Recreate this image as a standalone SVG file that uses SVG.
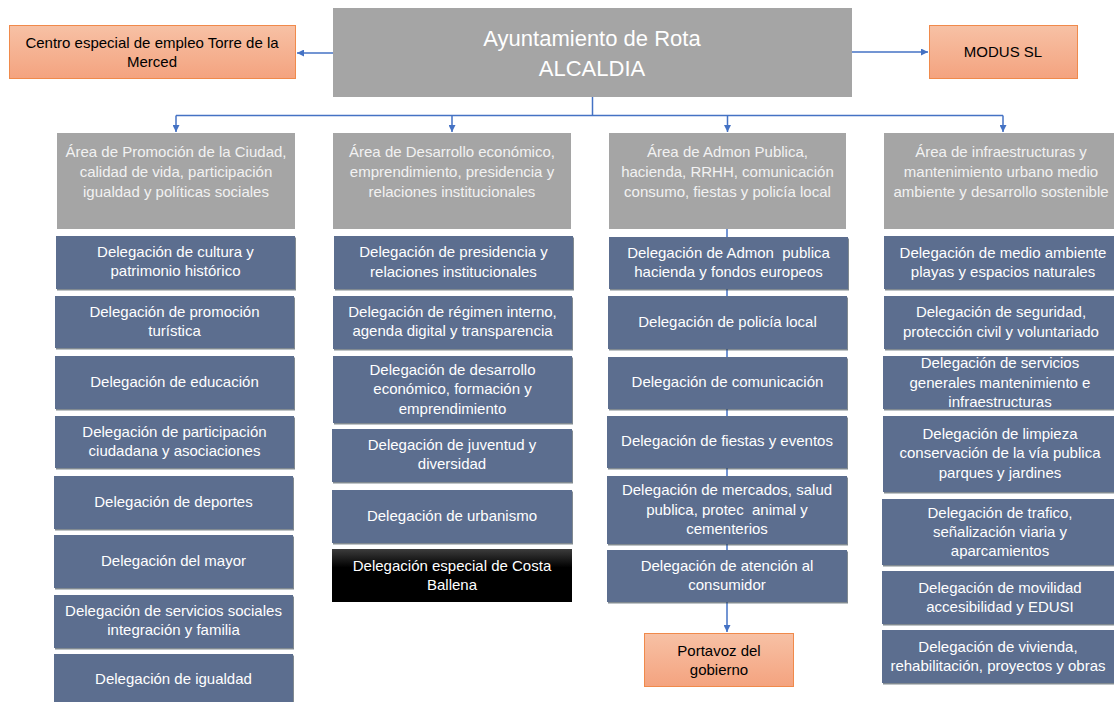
<svg xmlns="http://www.w3.org/2000/svg" width="1114" height="702" viewBox="0 0 1114 702">
<style>
text{font-family:"Liberation Sans",Arial,sans-serif;font-size:15px;text-anchor:middle;white-space:pre}
.gray{fill:#a5a5a5}
.area text{fill:#f2f2f2}
.del rect{fill:#5b6e8f;filter:url(#sh)}
.del text{fill:#ffffff}
.org rect{fill:url(#og);stroke:#f08a4b;stroke-width:1}
.org text{fill:#000000}
.blk rect{fill:url(#bg)}
.blk text{fill:#ffffff}
.conn{stroke:#4472c4;stroke-width:1.5;fill:none}
.title{fill:#ffffff;font-size:22px}
</style>
<defs>
<linearGradient id="og" x1="0" y1="0" x2="0" y2="1"><stop offset="0" stop-color="#f7c1a5"/><stop offset="1" stop-color="#f4a37f"/></linearGradient>
<linearGradient id="bg" x1="0" y1="0" x2="0" y2="1"><stop offset="0" stop-color="#3c3c3c"/><stop offset="0.35" stop-color="#000000"/><stop offset="1" stop-color="#000000"/></linearGradient>
<filter id="sh" x="-5%" y="-10%" width="110%" height="130%"><feDropShadow dx="1" dy="1.5" stdDeviation="0.6" flood-color="#2f3a4a" flood-opacity="0.6"/></filter>
<marker id="ah" viewBox="0 0 10 10" refX="10" refY="5" markerWidth="7" markerHeight="7" markerUnits="userSpaceOnUse" orient="auto"><path d="M0,0 L10,5 L0,10 z" fill="#4472c4"/></marker>
</defs>
<rect width="1114" height="702" fill="#ffffff"/>

<g id="connectors">
<path class="conn" d="M333,53 H297" marker-end="url(#ah)"/>
<path class="conn" d="M852,52 H928" marker-end="url(#ah)"/>
<path class="conn" d="M592.5,97 V115.5"/>
<path class="conn" d="M176,115.5 H1003"/>
<path class="conn" d="M176,115.5 V132" marker-end="url(#ah)"/>
<path class="conn" d="M452,115.5 V132" marker-end="url(#ah)"/>
<path class="conn" d="M727.5,115.5 V132" marker-end="url(#ah)"/>
<path class="conn" d="M1003,115.5 V132" marker-end="url(#ah)"/>
<path class="conn" d="M727,229 V632" marker-end="url(#ah)"/>
</g>

<g id="alcaldia"><rect class="gray" x="333" y="8" width="519" height="89"/>
<text class="title" x="592" y="46">Ayuntamiento de Rota</text><text class="title" x="592" y="76">ALCALDIA</text></g>
<g id="centro-especial" class="org"><rect x="9.5" y="25.5" width="286" height="53"/>
<text x="152" y="48">Centro especial de empleo Torre de la</text><text x="152" y="67">Merced</text></g>
<g id="modus" class="org"><rect x="929.5" y="25.5" width="148" height="53"/>
<text x="1003" y="57">MODUS SL</text></g>

<g id="area1" class="area"><rect class="gray" x="57" y="133" width="238" height="96"/>
<text x="176" y="157">Área de Promoción de la Ciudad,</text><text x="176" y="177">calidad de vida, participación</text><text x="176" y="197">igualdad y políticas sociales</text></g>
<g id="area2" class="area"><rect class="gray" x="333" y="133" width="238" height="96"/>
<text x="452" y="157">Área de Desarrollo económico,</text><text x="452" y="177">emprendimiento, presidencia y</text><text x="452" y="197">relaciones institucionales</text></g>
<g id="area3" class="area"><rect class="gray" x="609" y="133" width="237" height="96"/>
<text x="727.5" y="157">Área de Admon Publica,</text><text x="727.5" y="177">hacienda, RRHH, comunicación</text><text x="727.5" y="197">consumo, fiestas y policía local</text></g>
<g id="area4" class="area"><rect class="gray" x="884" y="133" width="238" height="96"/>
<text x="1001" y="157">Área de infraestructuras y</text><text x="1001" y="177">mantenimiento urbano medio</text><text x="1001" y="197">ambiente y desarrollo sostenible</text></g>

<g id="c1-cultura" class="del"><rect x="56" y="236" width="239" height="53"/><text x="175.5" y="257">Delegación de cultura y</text><text x="175.5" y="276">patrimonio histórico</text></g>
<g id="c1-turismo" class="del"><rect x="55" y="296" width="239" height="52"/><text x="174.5" y="317">Delegación de promoción</text><text x="174.5" y="336">turística</text></g>
<g id="c1-educacion" class="del"><rect x="55" y="356" width="239" height="53"/><text x="174.5" y="387">Delegación de educación</text></g>
<g id="c1-participacion" class="del"><rect x="55" y="416" width="239" height="52"/><text x="174.5" y="437">Delegación de participación</text><text x="174.5" y="456">ciudadana y asociaciones</text></g>
<g id="c1-deportes" class="del"><rect x="54" y="476" width="239" height="53"/><text x="173.5" y="507">Delegación de deportes</text></g>
<g id="c1-mayor" class="del"><rect x="54" y="535" width="239" height="53"/><text x="173.5" y="566">Delegación del mayor</text></g>
<g id="c1-sociales" class="del"><rect x="54" y="595" width="239" height="53"/><text x="173.5" y="616">Delegación de servicios sociales</text><text x="173.5" y="635">integración y familia</text></g>
<g id="c1-igualdad" class="del"><rect x="54" y="654" width="239" height="50"/><text x="173.5" y="684">Delegación de igualdad</text></g>

<g id="c2-presidencia" class="del"><rect x="334" y="236" width="239" height="53"/><text x="453.5" y="257">Delegación de presidencia y</text><text x="453.5" y="277">relaciones institucionales</text></g>
<g id="c2-regimen" class="del"><rect x="333" y="296" width="239" height="53"/><text x="452.5" y="317">Delegación de régimen interno,</text><text x="452.5" y="336">agenda digital y transparencia</text></g>
<g id="c2-desarrollo" class="del"><rect x="333" y="356" width="239" height="67"/><text x="452.5" y="375">Delegación de desarrollo</text><text x="452.5" y="394">económico, formación y</text><text x="452.5" y="414">emprendimiento</text></g>
<g id="c2-juventud" class="del"><rect x="332" y="429" width="240" height="53"/><text x="452" y="450">Delegación de juventud y</text><text x="452" y="469">diversidad</text></g>
<g id="c2-urbanismo" class="del"><rect x="332" y="490" width="240" height="53"/><text x="452" y="521">Delegación de urbanismo</text></g>
<g id="c2-costa-ballena" class="blk"><rect x="332" y="549" width="240" height="53"/><text x="452" y="571">Delegación especial de Costa</text><text x="452" y="590">Ballena</text></g>

<g id="c3-admon" class="del"><rect x="609" y="237" width="239" height="52"/><text x="728.5" y="258">Delegación de Admon  publica</text><text x="728.5" y="277">hacienda y fondos europeos</text></g>
<g id="c3-policia" class="del"><rect x="608" y="296" width="239" height="53"/><text x="727.5" y="327">Delegación de policía local</text></g>
<g id="c3-comunicacion" class="del"><rect x="608" y="357" width="239" height="52"/><text x="727.5" y="387">Delegación de comunicación</text></g>
<g id="c3-fiestas" class="del"><rect x="607" y="416" width="240" height="52"/><text x="727" y="446">Delegación de fiestas y eventos</text></g>
<g id="c3-mercados" class="del"><rect x="607" y="476" width="240" height="68"/><text x="727" y="495">Delegación de mercados, salud</text><text x="727" y="515">publica, protec  animal y</text><text x="727" y="534">cementerios</text></g>
<g id="c3-consumidor" class="del"><rect x="607" y="550" width="240" height="52"/><text x="727" y="571">Delegación de atención al</text><text x="727" y="590">consumidor</text></g>
<g id="portavoz" class="org"><rect x="644.5" y="633.5" width="149" height="53"/><text x="719" y="656">Portavoz del</text><text x="719" y="675">gobierno</text></g>

<g id="c4-medio-ambiente" class="del"><rect x="884" y="236" width="238" height="53"/><text x="1003" y="258">Delegación de medio ambiente</text><text x="1003" y="277">playas y espacios naturales</text></g>
<g id="c4-seguridad" class="del"><rect x="884" y="296" width="238" height="53"/><text x="1001" y="317">Delegación de seguridad,</text><text x="1001" y="337">protección civil y voluntariado</text></g>
<g id="c4-servicios" class="del"><rect x="883" y="356" width="239" height="53"/><text x="1000" y="368">Delegación de servicios</text><text x="1000" y="388">generales mantenimiento e</text><text x="1000" y="407">infraestructuras</text></g>
<g id="c4-limpieza" class="del"><rect x="883" y="416" width="239" height="76"/><text x="1000" y="439">Delegación de limpieza</text><text x="1000" y="458">conservación de la vía publica</text><text x="1000" y="478">parques y jardines</text></g>
<g id="c4-trafico" class="del"><rect x="882" y="499" width="240" height="66"/><text x="1000" y="518">Delegación de trafico,</text><text x="1000" y="537">señalización viaria y</text><text x="1000" y="556">aparcamientos</text></g>
<g id="c4-movilidad" class="del"><rect x="882" y="571" width="240" height="53"/><text x="1000" y="593">Delegación de movilidad</text><text x="1000" y="612">accesibilidad y EDUSI</text></g>
<g id="c4-vivienda" class="del"><rect x="882" y="630" width="240" height="53"/><text x="998" y="652">Delegación de vivienda,</text><text x="998" y="671">rehabilitación, proyectos y obras</text></g>
</svg>
